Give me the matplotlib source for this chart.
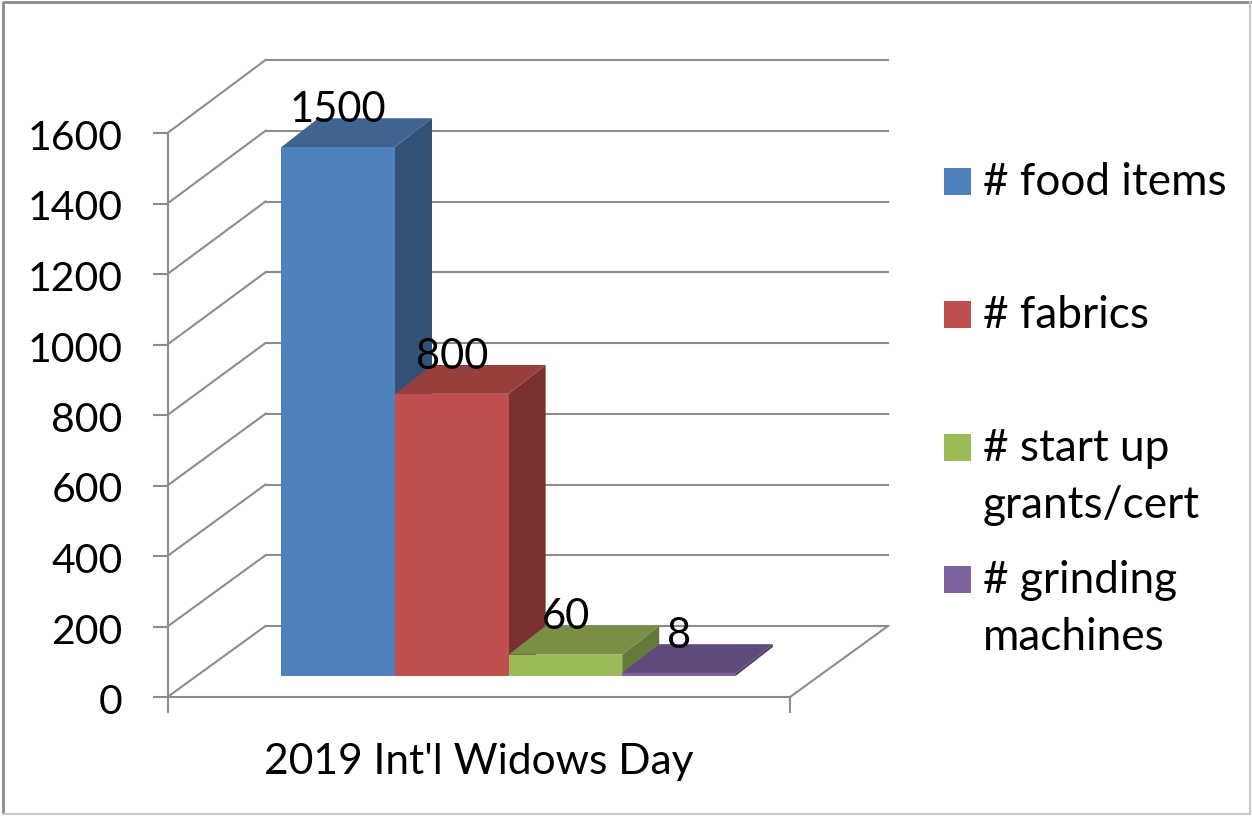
import matplotlib
matplotlib.use("Agg")
import matplotlib.pyplot as plt
from matplotlib.patches import Polygon, Rectangle
from matplotlib.transforms import Affine2D

categories = ["2019 Int'l Widows Day"]
series_names = ["# food items", "# fabrics", "# start up\ngrants/cert", "# grinding\nmachines"]
series_values = [1500, 800, 60, 8]
y_ticks = [0, 200, 400, 600, 800, 1000, 1200, 1400, 1600]

front_colors = ["#4F81BD", "#C0504D", "#9BBB59", "#8064A2"]
top_colors = ["#40648F", "#963F3C", "#788F45", "#604A7B"]
side_colors = ["#325177", "#7A302E", "#647A3A", "#503D68"]
grid_color = "#8C8C8C"

W, H = 1252, 816
DPI = 100
plt.rcParams["font.family"] = ["Lato", "DejaVu Sans"]
FS_TICK = 29.5
FS_VAL = 30
FS_CAT = 30.6
FS_LEG = 31.8
DX = 98

fig = plt.figure(figsize=(W / DPI, H / DPI), dpi=DPI, facecolor="white")
L, R, B, T = 167.5, 790, 697, 133
ax = fig.add_axes([L / W, 1 - B / H, (R - L) / W, (B - T) / H])
ax.set_xlim(0, 1)
ax.set_ylim(0, 1600)
ax.patch.set_visible(False)
for s in ("top", "right"):
    ax.spines[s].set_visible(False)
for s in ("left", "bottom"):
    ax.spines[s].set_color(grid_color)
    ax.spines[s].set_linewidth(1.5)

ax.set_yticks(y_ticks)
ax.tick_params(axis="y", length=10.8, width=1.5, color=grid_color, pad=21.5,
               labelsize=FS_TICK, labelcolor="black")
for lab in ax.get_yticklabels():
    lab.set_transform(lab.get_transform() + Affine2D().translate(0, -2))
ax.set_xticks([0, 1])
ax.set_xticklabels(["", ""])
ax.tick_params(axis="x", length=11.5, width=1.5, color=grid_color)

# walls: slanted side lines, back gridlines, floor edge
for v in y_ticks:
    px, py = ax.transData.transform((0, v))
    qx, _ = ax.transData.transform((1, v))
    lift = 71 + 2 * v / 1600
    ax.plot([px, px + DX], [py, py + lift], color=grid_color, lw=1.5,
            clip_on=False, transform=None)
    ax.plot([px + DX, qx + DX], [py + lift, py + lift], color=grid_color, lw=1.5,
            clip_on=False, transform=None)
p1 = ax.transData.transform((1, 0))
ax.plot([p1[0], p1[0] + DX], [p1[1], p1[1] + 71], color=grid_color, lw=1.5,
        clip_on=False, transform=None)

# bars: front face sits partway into the floor, back face further in
gap = 0.138
bw = 0.1825
front_dx, front_dy = 28, 21.2
back_dx, back_dy = 65, 50


def front(p):
    return (p[0] + front_dx, p[1] + front_dy)


def rear(p):
    return (p[0] + back_dx, p[1] + back_dy)


for i, v in enumerate(series_values):
    x0, x1 = gap + i * bw, gap + (i + 1) * bw
    fl, fr, tr, tl = ax.transData.transform([(x0, 0), (x1, 0), (x1, v), (x0, v)])
    ax.add_patch(Polygon([front(fr), rear(fr), rear(tr), front(tr)],
                         closed=True, fc=side_colors[i], ec="none", transform=None,
                         clip_on=False, zorder=3 + i))
    ax.add_patch(Polygon([front(tl), front(tr), rear(tr), rear(tl)],
                         closed=True, fc=top_colors[i], ec="none", transform=None,
                         clip_on=False, zorder=3 + i))
    ax.add_patch(Polygon([front(fl), front(fr), front(tr), front(tl)],
                         closed=True, fc=front_colors[i], ec="none", transform=None,
                         clip_on=False, zorder=3 + i))
    ax.annotate(str(v), xy=((x0 + x1) / 2, v),
                xycoords=ax.transData + Affine2D().translate(front_dx, front_dy),
                xytext=(0, 26.8), textcoords="offset points", ha="center", va="center",
                fontsize=FS_VAL, color="black", zorder=10)

# category label
fig.text(479 / W, 1 - 762 / H, categories[0], ha="center", va="center", fontsize=FS_CAT,
         color="black")

# legend
legend_y = [181, 314, 447, 579]
LINE_STEP = 57
for name, col, y in zip(series_names, front_colors, legend_y):
    fig.add_artist(Rectangle((944 / W, 1 - (y + 14) / H), 27 / W, 27 / H, fc=col, ec="none",
                             transform=fig.transFigure))
    for k, line in enumerate(name.split("\n")):
        fig.text(983 / W, 1 - (y + 14 + k * LINE_STEP) / H, line, ha="left", va="baseline",
                 fontsize=FS_LEG, color="black")

# outer frame
fig.add_artist(plt.Line2D([3 / W, 3 / W, 1250 / W], [1 - 813 / H, 1 - 2 / H, 1 - 2 / H],
                          color="#8C8C8C", lw=2, transform=fig.transFigure))
fig.add_artist(plt.Line2D([3 / W, 1250 / W, 1250 / W], [1 - 814 / H, 1 - 814 / H, 1 - 2 / H],
                          color="#C8C8C8", lw=1.5, transform=fig.transFigure))

fig.savefig("out.png", dpi=DPI, facecolor="white")
